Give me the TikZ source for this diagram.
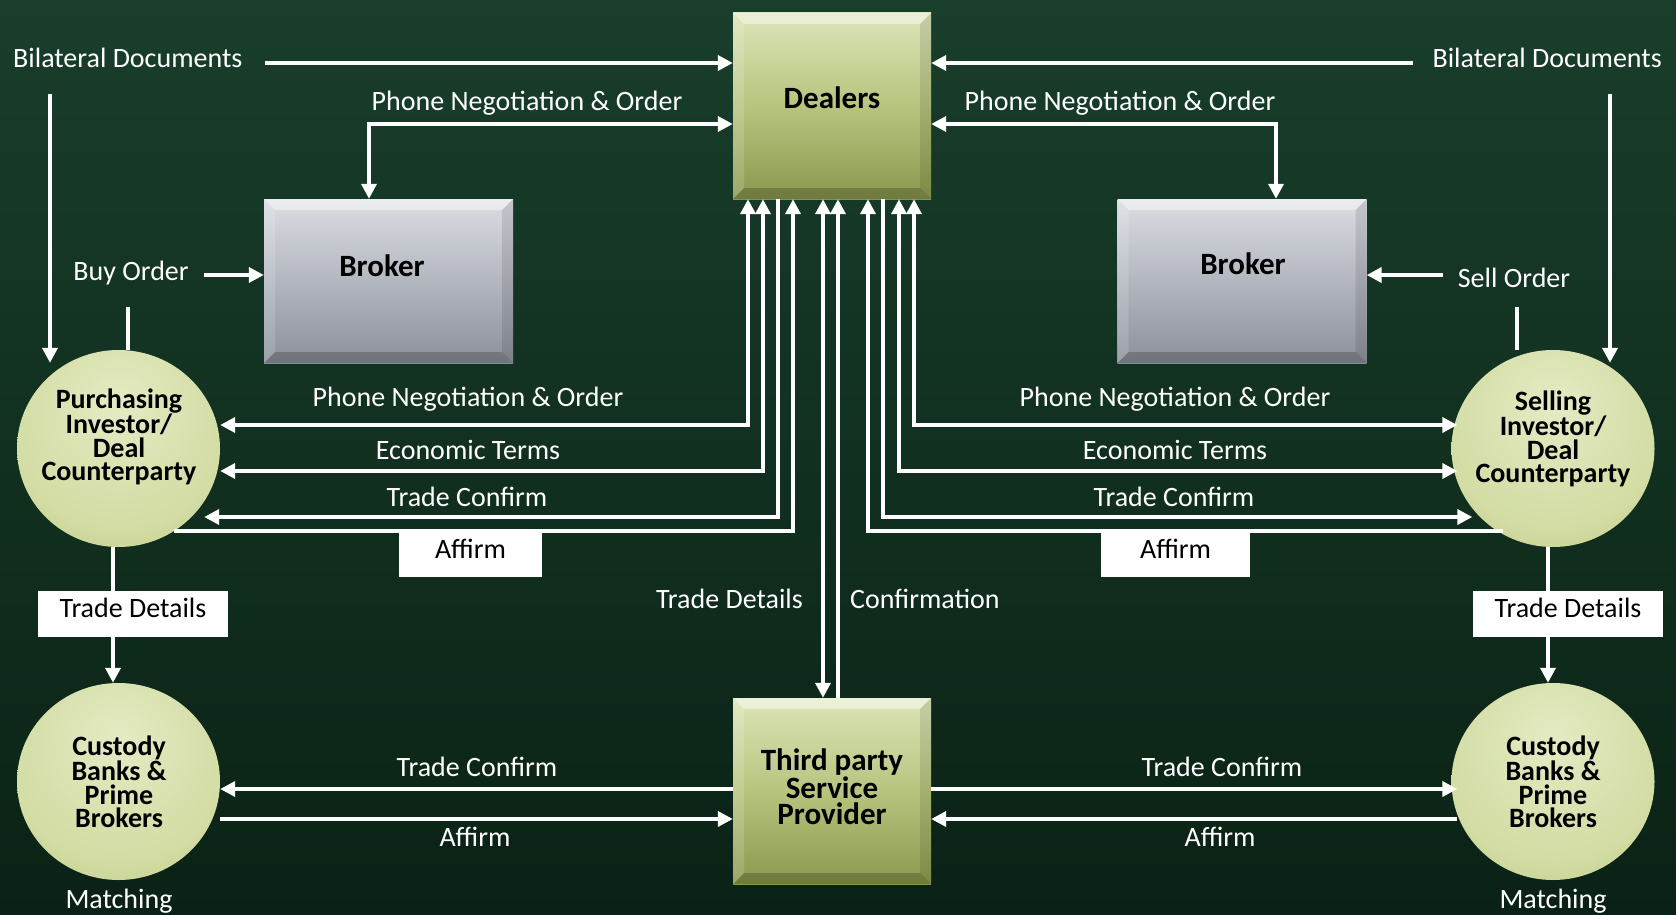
\documentclass[tikz,border=0pt]{standalone}
\usepackage{fontspec}
\setmainfont{Carlito}
\usetikzlibrary{arrows.meta,shapes.geometric,calc}
\definecolor{bgtop}{HTML}{193E2B}
\definecolor{bgbot}{HTML}{0A2215}
\definecolor{oltop}{HTML}{DCE5B9}
\definecolor{olmid}{HTML}{B7C47E}
\definecolor{olbot}{HTML}{8A994E}
\definecolor{grtop}{HTML}{DADDE3}
\definecolor{grbot}{HTML}{8C909A}
\definecolor{orbA}{HTML}{E4EBC4}
\definecolor{orbB}{HTML}{D2DCA3}
\definecolor{orbC}{HTML}{B8C47C}
\definecolor{orbD}{HTML}{93A257}
\pgfdeclareradialshading{orb}{\pgfpoint{0bp}{12bp}}{color(0bp)=(orbA); color(28bp)=(orbB); color(45bp)=(orbC); color(60bp)=(orbD); color(70bp)=(orbD)}
\tikzset{
 flow/.style={draw=white, line width=3.6pt},
 arr/.style={flow, -{Triangle[length=15pt,width=15pt]}},
 birr/.style={flow, {Triangle[length=15pt,width=15pt]}-{Triangle[length=15pt,width=15pt]}},
 lbl/.style={text=white, font=\fontsize{28}{30}\selectfont, inner sep=0pt},
 tag/.style={fill=white, text=black, font=\fontsize{28}{30}\selectfont, inner sep=0pt, minimum height=44pt, text height=20pt, text depth=13pt},
 bevel/.style={path picture={
  \fill[white,opacity=.45] (path picture bounding box.north west) -- (path picture bounding box.north east) -- ([xshift=-11pt,yshift=-11pt]path picture bounding box.north east) -- ([xshift=11pt,yshift=-11pt]path picture bounding box.north west) -- cycle;
  \fill[black,opacity=.10] (path picture bounding box.north east) -- (path picture bounding box.south east) -- ([xshift=-11pt,yshift=11pt]path picture bounding box.south east) -- ([xshift=-11pt,yshift=-11pt]path picture bounding box.north east) -- cycle;
  \fill[black,opacity=.2] (path picture bounding box.south east) -- (path picture bounding box.south west) -- ([xshift=11pt,yshift=11pt]path picture bounding box.south west) -- ([xshift=-11pt,yshift=11pt]path picture bounding box.south east) -- cycle;
  \fill[white,opacity=.15] (path picture bounding box.south west) -- (path picture bounding box.north west) -- ([xshift=11pt,yshift=-11pt]path picture bounding box.north west) -- ([xshift=11pt,yshift=11pt]path picture bounding box.south west) -- cycle;
 }},
 olbox/.style={rectangle, top color=oltop, bottom color=olbot, middle color=olmid, bevel, minimum width=198pt, minimum height=186pt, inner sep=0pt},
 gybox/.style={rectangle, top color=grtop, bottom color=grbot, bevel, minimum width=249pt, minimum height=164pt, inner sep=0pt},
 orbnode/.style={ellipse, shading=orb, minimum width=203pt, minimum height=197pt, inner sep=0pt},
 btxt/.style={font=\bfseries\fontsize{31}{26}\selectfont, align=center, text=black, inner sep=0pt},
 ctxt/.style={font=\bfseries\fontsize{28}{23.5}\selectfont, align=center, text=black, inner sep=0pt},
}
\begin{document}
\begin{tikzpicture}[x=1pt,y=-1pt]
\useasboundingbox (0,0) rectangle (1676,915);
\shade[top color=bgtop, bottom color=bgbot] (0,0) rectangle (1676,915);

% main nodes
\node[olbox] (D) at (832,106) {};
\node[btxt] (Dt) at (832,98) {Dealers};
\node[olbox] (T) at (832,791) {};
\node[btxt] (Tt) at (832,787) {Third party\\Service\\Provider};
\node[gybox] (BL) at (388.5,281) {};
\node[btxt] (BLt) at (382,266) {Broker};
\node[gybox] (BR) at (1242,281) {};
\node[btxt] (BRt) at (1243,264) {Broker};
\node[orbnode] (P) at (118.5,448.5) {};
\node[ctxt] (Pt) at (119,437) {Purchasing\\Investor/\\Deal\\Counterparty};
\node[orbnode] (S) at (1553,448.5) {};
\node[ctxt] (St) at (1553,439) {Selling\\Investor/\\Deal\\Counterparty};
\node[orbnode] (CL) at (118.5,781.5) {};
\node[ctxt] (CLt) at (119,782) {Custody\\Banks \&\\Prime\\Brokers};
\node[orbnode] (CR) at (1553,781.5) {};
\node[ctxt] (CRt) at (1553,782) {Custody\\Banks \&\\Prime\\Brokers};

% helper coordinates
\coordinate (xL1) at (748,0);
\coordinate (xL2) at (763,0);
\coordinate (xL3) at (778,0);
\coordinate (xL4) at (793,0);
\coordinate (xC1) at (823,0);
\coordinate (xC2) at (838,0);
\coordinate (xR1) at (868,0);
\coordinate (xR2) at (883,0);
\coordinate (xR3) at (899,0);
\coordinate (xR4) at (914,0);
\coordinate (yA) at (0,425);
\coordinate (yB) at (0,471);
\coordinate (yC) at (0,517);
\coordinate (yD) at (0,531);
\coordinate (yE) at (0,789);
\coordinate (yF) at (0,819);
\coordinate (xTL) at (113,0);
\coordinate (xTR) at (1548,0);

% top
\node[lbl, anchor=west] (bdL) at (13,58) {Bilateral Documents};
\node[lbl, anchor=east] (bdR) at (1662,58) {Bilateral Documents};
\coordinate (bdLs) at (265,63);
\draw[arr] (bdLs) -- (bdLs -| D.west);
\coordinate (bdRs) at (1413,63);
\draw[arr] (bdRs) -- (bdRs -| D.east);
\coordinate (bvL) at (50,94);
\draw[arr] (bvL) -- ($(bvL |- P.north)+(0,13)$);
\coordinate (bvR) at (1610,94);
\draw[arr] (bvR) -- ($(bvR |- S.north)+(0,13)$);

\node[lbl] (phL) at (527,103) {Phone Negotiation \& Order};
\coordinate (phLc) at (369,124);
\draw[birr] (D.west |- phLc) -| (phLc |- BL.north);
\node[lbl] (phR) at (1120,103) {Phone Negotiation \& Order};
\coordinate (phRc) at (1276,124);
\draw[birr] (D.east |- phRc) -| (phRc |- BR.north);

\node[lbl] (buy) at (131,273) {Buy Order};
\coordinate (buyA) at (204,275);
\draw[arr] (buyA) -- (buyA -| BL.west);
\coordinate (buyB) at (128,307);
\draw[flow] (buyB) -- (buyB |- P.north);
\node[lbl] (sell) at (1514,278) {Sell Order};
\coordinate (sellA) at (1443,275);
\draw[arr] (sellA) -- (sellA -| BR.east);
\coordinate (sellB) at (1517,307);
\draw[flow] (sellB) -- (sellB |- S.north);

% left flows
\draw[birr] (D.south -| xL1) |- (P.east |- yA);
\draw[birr] (D.south -| xL2) |- (P.east |- yB);
\draw[arr] (D.south -| xL3) |- ($(P.east |- yC)+(-16,0)$);
\draw[arr] ($(P.east |- yD)+(-46,0)$) -| (D.south -| xL4);
\node[lbl] (lPh) at (468,399) {Phone Negotiation \& Order};
\node[lbl] (lEc) at (468,450) {Economic Terms};
\node[lbl] (lTc) at (467,497) {Trade Confirm};
\node[tag, minimum width=143pt] (afL) at (470.5,555) {Affirm};

% right flows
\draw[birr] (D.south -| xR4) |- ($(S.west |- yA)+(6,0)$);
\draw[birr] (D.south -| xR3) |- ($(S.west |- yB)+(6,0)$);
\draw[arr] (D.south -| xR2) |- ($(S.west |- yC)+(21,0)$);
\draw[arr] ($(S.west |- yD)+(52,0)$) -| (D.south -| xR1);
\node[lbl] (rPh) at (1175,399) {Phone Negotiation \& Order};
\node[lbl] (rEc) at (1175,450) {Economic Terms};
\node[lbl] (rTc) at (1174,497) {Trade Confirm};
\node[tag, minimum width=149pt] (afR) at (1175.5,555) {Affirm};

% centre
\draw[birr] (D.south -| xC1) -- (T.north -| xC1);
\draw[arr] (T.north -| xC2) -- (D.south -| xC2);
\node[lbl, anchor=east] (cTd) at (803,599) {Trade Details};
\node[lbl, anchor=west] (cCf) at (850,599) {Confirmation};

% trade details down
\draw[arr] (P.south -| xTL) -- (CL.north -| xTL);
\node[tag, minimum width=190pt, minimum height=46pt] (tdL) at (133,614) {Trade Details};
\draw[arr] (S.south -| xTR) -- (CR.north -| xTR);
\node[tag, minimum width=190pt, minimum height=46pt] (tdR) at (1568,614) {Trade Details};

% bottom
\draw[arr] (T.west |- yE) -- (CL.east |- yE);
\draw[arr] (CL.east |- yF) -- (T.west |- yF);
\draw[arr] (T.east |- yE) -- ($(CR.west |- yE)+(6,0)$);
\draw[arr] ($(CR.west |- yF)+(6,0)$) -- (T.east |- yF);
\node[lbl] (bTcL) at (477,767) {Trade Confirm};
\node[lbl] (bAfL) at (475,837) {Affirm};
\node[lbl] (bTcR) at (1222,767) {Trade Confirm};
\node[lbl] (bAfR) at (1220,837) {Affirm};
\node[lbl] (mL) at (119,901) {Matching};
\node[lbl] (mR) at (1553,901) {Matching};
\end{tikzpicture}
\end{document}
